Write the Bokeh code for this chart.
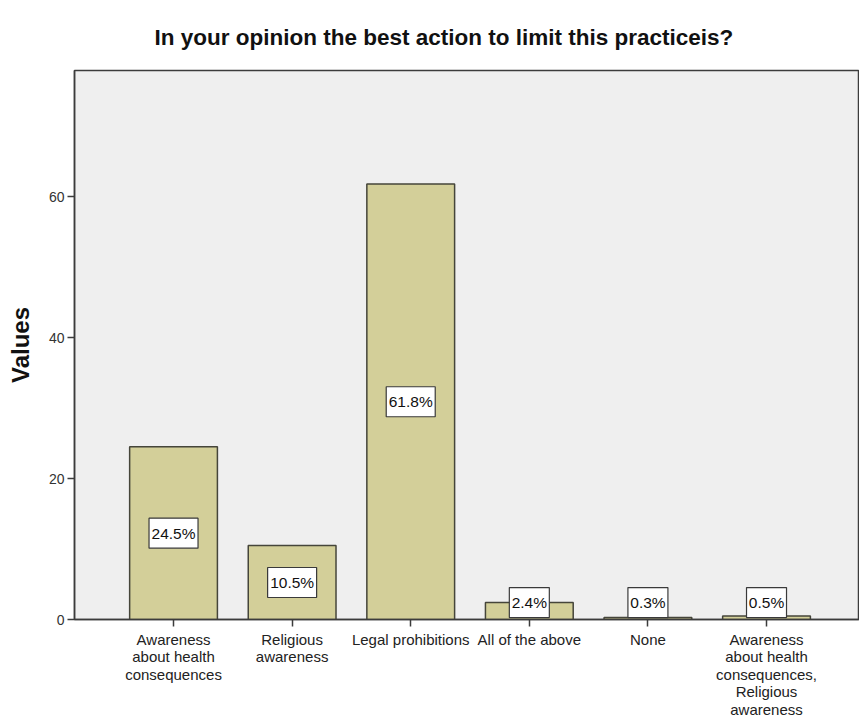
from bokeh.plotting import figure
from bokeh.models import Range1d, FixedTicker, ColumnDataSource
from bokeh.core.properties import value
from bokeh.embed import file_html
from bokeh.resources import INLINE

# ---- data ----
categories = [
    "Awareness\nabout health\nconsequences",
    "Religious\nawareness",
    "Legal prohibitions",
    "All of the above",
    "None",
    "Awareness\nabout health\nconsequences,\nReligious\nawareness",
]
values = [24.5, 10.5, 61.8, 2.4, 0.3, 0.5]
y_ticks = [0, 20, 40, 60]
title_text = "In your opinion the best action to limit this practiceis?"
y_label = "Values"

FONT = "Liberation Sans"
xs = list(range(1, len(categories) + 1))
labels = [f"{v:.1f}%" for v in values]
label_y = [max(v / 2, 2.4) for v in values]
box_w = [9 * len(s) + 4 for s in labels]

src = ColumnDataSource(dict(x=xs, top=values, ly=label_y, lab=labels, bw=box_w))

p = figure(width=859, height=720, output_backend="svg", toolbar_location=None,
           x_range=Range1d(0.165, 6.784), y_range=Range1d(0, 77.9),
           frame_width=785, frame_height=549,
           min_border_left=74, min_border_right=0, min_border_top=70, min_border_bottom=101,
           title=title_text)

p.background_fill_color = "#efefef"
p.border_fill_color = "white"
p.outline_line_color = "#3c3c3c"
p.outline_line_width = 1.5

p.title.text_font = FONT
p.title.text_font_size = "22.5px"
p.title.text_font_style = "bold"
p.title.text_color = "#111111"
p.title.align = "left"
p.title.offset = 80
p.title.standoff = 41
p.title.text_line_height = 0.7

p.xgrid.visible = False
p.ygrid.visible = False

p.vbar(x="x", top="top", width=0.74, bottom=0, source=src,
       fill_color="#d3cf99", line_color="#45453a", line_width=1.5)

p.rect(x="x", y="ly", width="bw", height=30, width_units="screen", height_units="screen",
       source=src, fill_color="white", line_color="#3a3a3a", line_width=1.2)
p.text(x="x", y="ly", text="lab", source=src, text_align="center", text_baseline="middle",
       text_font=value(FONT), text_font_size="15.5px", text_color="#111111")

# axes
xa = p.xaxis[0]
xa.ticker = FixedTicker(ticks=xs)
xa.major_label_overrides = {x: c for x, c in zip(xs, categories)}
xa.minor_tick_line_color = None
xa.major_tick_out = 7
xa.major_tick_in = 0
xa.major_label_standoff = 4
xa.axis_line_color = "#3c3c3c"
xa.axis_line_width = 1.5
xa.major_tick_line_color = "#3c3c3c"
xa.major_tick_line_width = 1.5
xa.major_label_text_font = FONT
xa.major_label_text_font_size = "15px"
xa.major_label_text_line_height = 1.03
xa.major_label_text_color = "#222222"

ya = p.yaxis[0]
ya.ticker = FixedTicker(ticks=y_ticks)
ya.minor_tick_line_color = None
ya.major_tick_out = 7
ya.major_tick_in = 0
ya.major_label_standoff = 3
ya.axis_line_color = "#3c3c3c"
ya.axis_line_width = 1.5
ya.major_tick_line_color = "#3c3c3c"
ya.major_tick_line_width = 1.5
ya.major_label_text_font = FONT
ya.major_label_text_font_size = "14px"
ya.major_label_text_color = "#333333"
ya.axis_label = y_label
ya.axis_label_text_font = FONT
ya.axis_label_text_font_size = "24px"
ya.axis_label_text_font_style = "bold"
ya.axis_label_text_color = "#111111"
ya.axis_label_standoff = 12

open("out.html", "w").write(file_html(p, INLINE))
